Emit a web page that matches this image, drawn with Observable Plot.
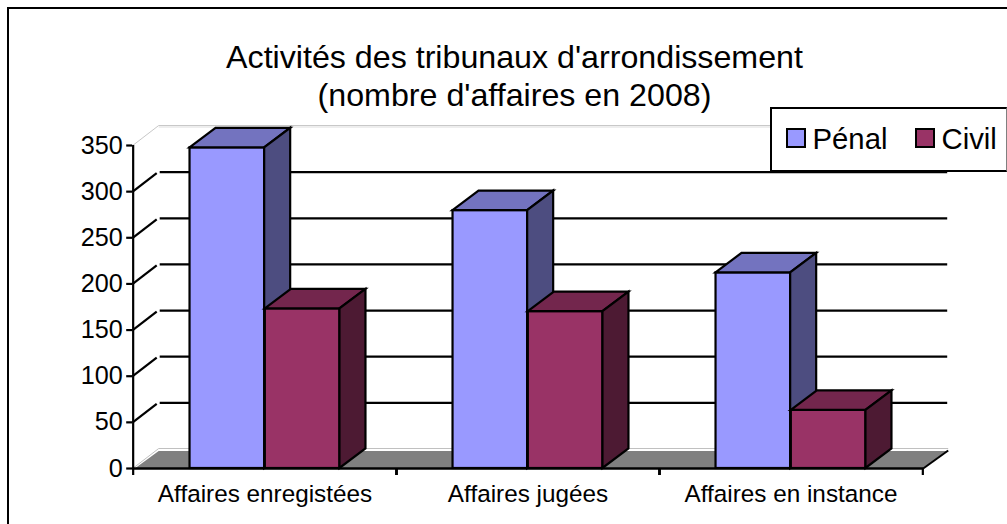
<!DOCTYPE html>
<html><head><meta charset="utf-8">
<script src="https://cdn.jsdelivr.net/npm/d3@7"></script>
<script src="https://cdn.jsdelivr.net/npm/@observablehq/plot@0.6"></script>
<style>
html,body{margin:0;padding:0;background:#fff;overflow:hidden}
body{width:1007px;height:524px;position:relative;font-family:"Liberation Sans",Arial,sans-serif;color:#000}
#frame{position:absolute;left:7px;top:7px;width:1100px;height:600px;border:2px solid #000;box-sizing:border-box;pointer-events:none}
#title{position:absolute;left:0;top:38px;width:1029px;text-align:center;font-size:32.2px;line-height:38px}
#legend{position:absolute;left:770px;top:107px;width:237px;height:65px;box-sizing:border-box;border:2px solid #000;border-right:1px solid #808080;background:#fff;font-size:29.3px}
#legend span{position:absolute;top:13px;line-height:33px}
#legend i{position:absolute;top:19px;width:20px;height:20px;box-sizing:border-box;border:2px solid #000}
#chart{position:absolute;left:0;top:0}
</style></head><body>
<div id="chart"></div>
<div id="frame"></div>
<div id="title">Activités des tribunaux d'arrondissement<br>(nombre d'affaires en 2008)</div>
<div id="legend"></div>
<script>
const categories = ["Affaires enregistées","Affaires jugées","Affaires en instance"];
const seriesNames = ["Pénal","Civil"];
const penal = [347.5,279.5,212];
const civil = [173,170,63];
const yTicks = [0,50,100,150,200,250,300,350];
const colors = {"Pénal":"#9999ff","Civil":"#993366"};
const topColors = {"Pénal":"#7373bf","Civil":"#73264d"};
const sideColors = {"Pénal":"#4d4d80","Civil":"#4d1a33"};

const depthX = 26, depthY = 19.5, barW = 75.3;
const bandW = 791/3;
const inset = (bandW-barW)/2;

const rows = s => categories.map((c,i)=>({category:c, value:(s==="Pénal"?penal:civil)[i]}));

function face(kind){
  return function(index, scales, values, dims, ctx, next){
    const g = next(index, scales, values, dims, ctx);
    d3.select(g).selectAll("rect").each(function(){
      const r = d3.select(this);
      const x=+r.attr("x"), y=+r.attr("y"), w=+r.attr("width"), h=+r.attr("height");
      const pts = kind==="top"
        ? [[x,y],[x+w,y],[x+w+depthX,y-depthY],[x+depthX,y-depthY]]
        : [[x+w,y],[x+w,y+h],[x+w+depthX,y+h-depthY],[x+w+depthX,y-depthY]];
      const p = document.createElementNS("http://www.w3.org/2000/svg","path");
      p.setAttribute("d","M"+pts.join("L")+"Z");
      for (const a of ["fill","stroke"]) if (r.attr(a)) p.setAttribute(a,r.attr(a));
      p.setAttribute("stroke-linejoin","miter");
      this.parentNode.replaceChild(p,this);
    });
    return g;
  };
}

function barGroup(s, shift){
  const common = {x:"category", y:"value", dx:shift, insetLeft:inset, insetRight:inset, stroke:"#000", strokeWidth:2.2};
  return [
    Plot.barY(rows(s), {...common, fill:colors[s]}),
    Plot.barY(rows(s), {...common, fill:topColors[s], render:face("top")}),
    Plot.barY(rows(s), {...common, fill:sideColors[s], render:face("side")})
  ];
}

function backdrop(index, {y}, values, dims){
  const g = d3.create("svg:g");
  const l = dims.marginLeft+0.5, r = dims.width-dims.marginRight, y0=y(0)+0.5, y1=y(350)+0.5;
  const line=(d,c,w)=>g.append("path").attr("d",d).attr("fill","none").attr("stroke",c).attr("stroke-width",w);
  g.append("path").attr("d",`M${l+2},${y0}L${r},${y0}L${r+depthX-1},${y0-17.5}L${l+depthX},${y0-17.5}Z`).attr("fill","#808080");
  line(`M${l},${y0}L${l+depthX},${y0-20}L${r+depthX-1},${y0-20}`,"#c0c0c0",1);
  line(`M${l},${y1}L${l+depthX},${y1-20}L${r+depthX-1},${y1-20}`,"#c8c8c8",1);
  line(`M${l+depthX},${y1-18.5}L${r+depthX-1},${y1-18.5}`,"#dddddd",1);
  line(`M${r},${y0}L${r+depthX-1},${y0-18}`,"#000",2);
  yTicks.filter(t=>t>0 && t<350).forEach(t=>{
    const v=y(t)+0.5;
    line(`M${l},${v}L${l+depthX-2},${v-depthY+1}`,"#000",2.2);
    line(`M${l+depthX+1},${v-19.5}L${r+depthX-2},${v-19.5}`,"#000",2.2);
  });
  return g.node();
}

const chart = Plot.plot({
  width:1007, height:524,
  marginLeft:132.2, marginRight:83.8, marginTop:145, marginBottom:56,
  style:{background:"transparent", fontFamily:'"Liberation Sans",Arial,sans-serif', color:"#000"},
  x:{domain:categories, padding:0, label:null},
  y:{domain:[0,350], label:null},
  marks:[
    backdrop,
    ...barGroup("Pénal",-barW/2),
    ...barGroup("Civil",barW/2),
    Plot.ruleX([0],{x:()=>categories[0],dx:-bandW/2,y1:0,y2:350,stroke:"#000",strokeWidth:2.2}),
    Plot.ruleY([0],{stroke:"#000",strokeWidth:2.5}),
    Plot.axisY({ticks:yTicks, tickSize:6, tickPadding:4, fontSize:25.2, stroke:"#000", strokeWidth:2.2, color:"#000", label:null}),
    Plot.axisX({tickSize:0, tickPadding:16, fontSize:24.3, color:"#000", label:null}),
    Plot.axisX({tickSize:7, tickFormat:()=>"", dx:-bandW/2, stroke:"#000", strokeWidth:2.2, label:null}),
    Plot.axisX({tickSize:7, tickFormat:()=>"", dx:bandW/2, stroke:"#000", strokeWidth:2.2, label:null})
  ]
});
document.getElementById("chart").appendChild(chart);

const leg = document.getElementById("legend");
[["Pénal",14,40.5],["Civil",143,169.5]].forEach(([s,a,b])=>{
  const i=document.createElement("i"); i.style.left=a+"px"; i.style.background=colors[s]; leg.appendChild(i);
  const t=document.createElement("span"); t.style.left=b+"px"; t.textContent=s; leg.appendChild(t);
});
</script>
</body></html>
